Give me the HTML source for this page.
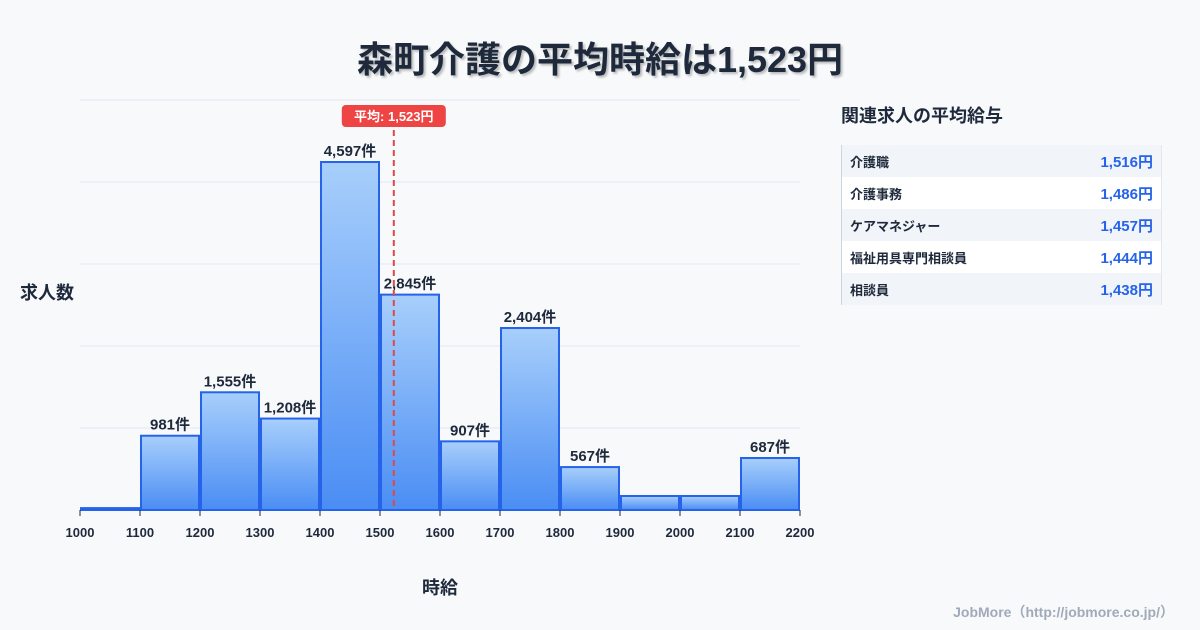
<!DOCTYPE html>
<html><head><meta charset="utf-8"><style>
body{margin:0;width:1200px;height:630px;background:#f8f9fb;font-family:"Liberation Sans","Noto Sans CJK JP",sans-serif;position:relative;overflow:hidden;color:#1e293b}
.title{position:absolute;top:31px;left:0;width:1200px;text-align:center;font-size:36px;font-weight:bold;color:#1e293b;text-shadow:2px 2px 2px rgba(0,0,0,.25)}
.side{position:absolute;left:841px;top:102px;font-size:18px;font-weight:bold}
.tbl{position:absolute;left:841px;top:145px;width:319px;border-left:1px solid #cbd5e1;border-right:1px solid #e2e8f0}
.row{height:32px;display:flex;justify-content:space-between;align-items:center;padding:0 8px 0 8px;font-size:13px;font-weight:bold}
.row:nth-child(odd){background:#f1f4f8}.row:nth-child(even){background:#fff}
.row .v{color:#2563eb;font-size:15px}
.foot{position:absolute;right:26px;top:602px;font-size:14px;color:#a0aab8;font-weight:bold}
</style></head><body>
<div class="title">森町介護の平均時給は1,523円</div>
<svg id="chart" width="830" height="630" style="position:absolute;left:0;top:0">
<defs><linearGradient id="g" x1="0" y1="0" x2="0" y2="1"><stop offset="0" stop-color="#a8cffb"/><stop offset="1" stop-color="#4a8df4"/></linearGradient></defs>
</svg>
<div class="side">関連求人の平均給与</div>
<div class="tbl">
<div class="row"><span>介護職</span><span class="v">1,516円</span></div>
<div class="row"><span>介護事務</span><span class="v">1,486円</span></div>
<div class="row"><span>ケアマネジャー</span><span class="v">1,457円</span></div>
<div class="row"><span>福祉用具専門相談員</span><span class="v">1,444円</span></div>
<div class="row"><span>相談員</span><span class="v">1,438円</span></div>
</div>
<div class="foot">JobMore（http://jobmore.co.jp/）</div>
<script>
const binStarts=[1000,1100,1200,1300,1400,1500,1600,1700,1800,1900,2000,2100];
const counts=[25,981,1555,1208,4597,2845,907,2404,567,185,185,687];
const labels=["","981件","1,555件","1,208件","4,597件","2,845件","907件","2,404件","567件","","","687件"];
const xTicks=[1000,1100,1200,1300,1400,1500,1600,1700,1800,1900,2000,2100,2200];
const avg=1523;
const svg=document.getElementById('chart');const NS='http://www.w3.org/2000/svg';
const X0=80,X1=800,Y0=510,Y1=100,xmin=1000,xmax=2200,ymax=5416;
const x=v=>X0+(v-xmin)/(xmax-xmin)*(X1-X0);
const y=v=>Y0-v/ymax*(Y0-Y1);
function mk(t,a,txt){const e=document.createElementNS(NS,t);for(const k in a)e.setAttribute(k,a[k]);if(txt!==undefined)e.textContent=txt;svg.appendChild(e);return e;}
for(let i=0;i<=5;i++){const gy=Y0-i*(Y0-Y1)/5;const l=mk('line',{x1:X0,x2:X1,y1:gy,y2:gy,stroke:'#e2e8f0','stroke-width':1});

}
binStarts.forEach((b,i)=>{const x0=x(b)+1,x1=x(b+100)-1,t=y(counts[i]);
const r=mk('rect',{x:x0,y:t,width:x1-x0,height:Y0-t,fill:'url(#g)',stroke:'#2563eb','stroke-width':2});


if(labels[i]){const tx=mk('text',{x:(x0+x1)/2,y:t-6,'text-anchor':'middle','font-size':15,'font-weight':'bold',fill:'#1e293b'},labels[i]);

}});
xTicks.forEach(v=>{const l=mk('line',{x1:x(v),x2:x(v),y1:Y0,y2:Y0+6,stroke:'#1e293b','stroke-width':1});


const t=mk('text',{x:x(v),y:Y0+27,'text-anchor':'middle','font-size':13,'font-weight':'bold',fill:'#1e293b'},v);

});
const ax=x(avg);
const al=mk('line',{x1:ax,x2:ax,y1:130,y2:Y0,stroke:'#e04848','stroke-width':2,'stroke-dasharray':'6,4'});


const ab=mk('rect',{x:ax-52,y:105,width:104,height:22,rx:4,fill:'#ef4444'});


const at=mk('text',{x:ax,y:121,'text-anchor':'middle','font-size':13,'font-weight':'bold',fill:'#fff'},'平均: 1,523円');


const yt=mk('text',{x:20,y:299,'font-size':18,'font-weight':'bold',fill:'#1e293b'},'求人数');


const xt=mk('text',{x:440,y:594,'text-anchor':'middle','font-size':18,'font-weight':'bold',fill:'#1e293b'},'時給');


</script>
</body></html>
